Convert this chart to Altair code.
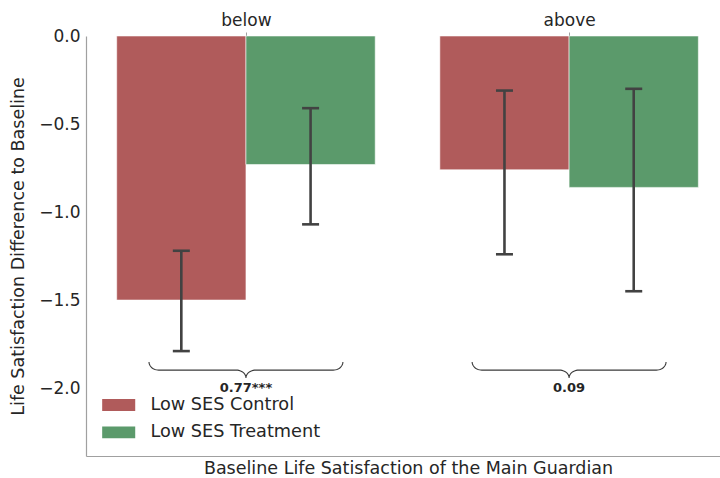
import math
import json

import altair as alt
import pandas as pd

# ---- data -------------------------------------------------------------
groups = ["below", "above"]
conditions = ["Low SES Control", "Low SES Treatment"]
mean_control = [-1.50, -0.76]
mean_treatment = [-0.73, -0.86]
low_control = [-1.79, -1.24]
high_control = [-1.22, -0.31]
low_treatment = [-1.07, -1.45]
high_treatment = [-0.41, -0.30]
diff_labels = ["0.77***", "0.09"]
y_ticks = [0.0, -0.5, -1.0, -1.5, -2.0]

colors = ["#b05b5b", "#5b9a6b"]
TEXT = "#262626"
SPINE = "#a0a0a0"
FONT = "DejaVu Sans"

BAR_W = 0.4          # width of one bar in group units
BRACE_HALF = 0.3     # half span of a brace
BRACE_CURL = 0.03    # horizontal extent of the brace curls
BRACE_TOP, BRACE_MID, BRACE_TIP = -1.852, -1.898, -1.943
LABEL_Y = -2.0

# ---- tables -----------------------------------------------------------
series = [
    (conditions[0], mean_control, low_control, high_control),
    (conditions[1], mean_treatment, low_treatment, high_treatment),
]
rows = []
for gi, g in enumerate(groups):
    for ci, (cond, means, lows, highs) in enumerate(series):
        cx = gi + (ci - 0.5) * BAR_W
        rows.append(dict(group=g, gi=gi, condition=cond, x=cx,
                         x0=cx - BAR_W / 2, x1=cx + BAR_W / 2,
                         mean=means[gi], lo=lows[gi], hi=highs[gi]))
bars_df = pd.DataFrame(rows)
caps_df = bars_df.melt(id_vars=["x", "condition"], value_vars=["lo", "hi"],
                       var_name="end", value_name="v")

# curly braces under each group pair
brace_rows = []
steps = 12
for gi, g in enumerate(groups):
    pts = []
    for k in range(steps + 1):
        t = math.pi / 2 * k / steps
        pts.append((gi - BRACE_HALF + BRACE_CURL * (1 - math.cos(t)),
                    BRACE_TOP - (BRACE_TOP - BRACE_MID) * math.sin(t)))
    for k in range(steps + 1):
        t = math.pi / 2 * k / steps
        pts.append((gi - BRACE_CURL + BRACE_CURL * math.sin(t),
                    BRACE_MID - (BRACE_MID - BRACE_TIP) * (1 - math.cos(t))))
    right = [(2 * gi - px, py) for px, py in reversed(pts)]
    for i, (px, py) in enumerate(pts + right):
        brace_rows.append(dict(group=g, order=i, bx=px, by=py))
brace_df = pd.DataFrame(brace_rows)

label_df = pd.DataFrame({"gi": list(range(len(groups))), "label": diff_labels,
                         "ly": [LABEL_Y] * len(groups)})

# ---- scales -----------------------------------------------------------
x_scale = alt.Scale(domain=[-0.495, 1.467], nice=False, zero=False)
y_scale = alt.Scale(domain=[-2.386, 0], nice=False, zero=False)

bars = alt.Chart(bars_df).mark_rect(stroke="white", strokeWidth=0.8, strokeOpacity=0.7).encode(
    x=alt.X("x0:Q", scale=x_scale,
            axis=alt.Axis(orient="bottom", title="Baseline Life Satisfaction of the Main Guardian",
                          labels=False, ticks=False, domain=True, titlePadding=3,
                          titleFontSize=17.5, titleX=322)),
    x2="x1:Q",
    y=alt.Y("mean:Q", scale=y_scale,
            axis=alt.Axis(values=y_ticks, ticks=False, labelPadding=6,
                          labelExpr="replace(format(datum.value, '.1f'), '-', '\u2212')",
                          title="Life Satisfaction Difference to Baseline",
                          titleFontSize=17.5, titleX=-59)),
    y2=alt.datum(0),
    color=alt.Color("condition:N",
                    scale=alt.Scale(domain=conditions, range=colors),
                    legend=alt.Legend(title=None, orient="none", legendX=20.7, legendY=357,
                                      symbolType="M-1.4,-0.5H1.4V0.5H-1.4Z",
                                      symbolSize=557, symbolStrokeWidth=0,
                                      labelOffset=19.7, rowPadding=6.4, padding=0,
                                      labelLimit=0,
                                      labelFontSize=17.7, labelColor=TEXT, labelFont=FONT)),
)

# error bars; this layer also carries the group labels on top
top_axis = alt.Axis(orient="top", values=list(range(len(groups))), title=None,
                    labelExpr=f"{json.dumps(groups)}[datum.value]",
                    domain=False, ticks=True, tickSize=4, tickColor=SPINE,
                    labelPadding=3)
err = alt.Chart(bars_df).mark_rule(color="#424242", strokeWidth=2.6).encode(
    x=alt.X("x:Q", scale=x_scale, axis=top_axis),
    y=alt.Y("lo:Q", scale=y_scale, axis=None),
    y2="hi:Q",
)

caps = alt.Chart(caps_df).mark_tick(orient="horizontal", size=17, thickness=2.6,
                                    color="#424242", opacity=1).encode(
    x=alt.X("x:Q", scale=x_scale, axis=None),
    y=alt.Y("v:Q", scale=y_scale, axis=None),
)

braces = alt.Chart(brace_df).mark_line(color="#3a3a3a", strokeWidth=1.1).encode(
    x=alt.X("bx:Q", scale=x_scale, axis=None),
    y=alt.Y("by:Q", scale=y_scale, axis=None),
    detail="group:N",
    order="order:Q",
)

brace_text = alt.Chart(label_df).mark_text(fontWeight="bold", fontSize=13, color=TEXT,
                                           font=FONT, baseline="middle").encode(
    x=alt.X("gi:Q", scale=x_scale, axis=None),
    y=alt.Y("ly:Q", scale=y_scale, axis=None),
    text="label:N",
)

chart = (
    alt.layer(bars, err, caps, braces, brace_text)
    .resolve_axis(x="independent", y="independent")
    .properties(width=634, height=420,
                autosize=alt.AutoSizeParams(type="none"),
                padding={"left": 86, "top": 36, "right": 0, "bottom": 22})
    .configure(font=FONT)
    .configure_view(stroke=None)
    .configure_axis(grid=False, domainColor=SPINE, domainWidth=1.2,
                    labelFont=FONT, labelFontSize=17, labelColor=TEXT,
                    titleFont=FONT, titleFontSize=17, titleColor=TEXT,
                    titleFontWeight="normal")
)

chart.save("out.html", embed_options={"renderer": "svg", "actions": False})
